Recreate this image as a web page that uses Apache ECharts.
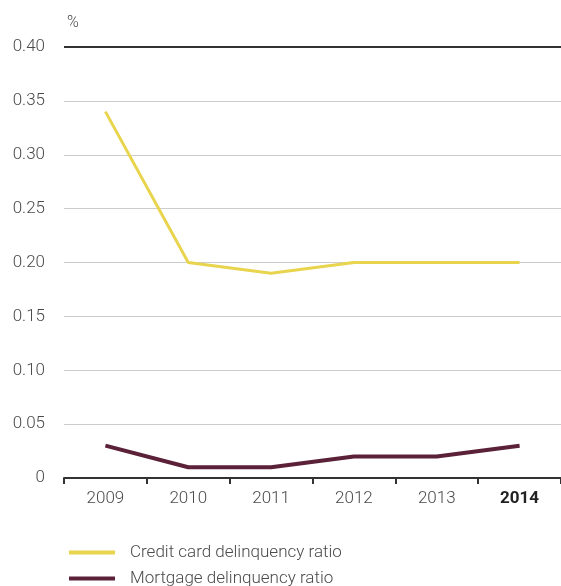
<!DOCTYPE html>
<html>
<head>
<meta charset="utf-8">
<script src="https://cdn.jsdelivr.net/npm/echarts@6/dist/echarts.min.js"></script>
<style>
  html, body { margin: 0; padding: 0; background: #fff; }
  #chart { width: 561px; height: 586px; }
</style>
</head>
<body>
<div id="chart"></div>
<script>
// years on the x axis
const years = ['2009', '2010', '2011', '2012', '2013', '2014'];
// ratios in %
const creditCard = [0.34, 0.20, 0.19, 0.20, 0.20, 0.20];
const mortgage = [0.03, 0.01, 0.01, 0.02, 0.02, 0.03];
const seriesNames = ['Credit card delinquency ratio', 'Mortgage delinquency ratio'];
const yMax = 0.4;

const textFont = 'Roboto';
const labelColor = '#4a4a4a';
const chart = echarts.init(document.getElementById('chart'));

// one legend per row so it never wraps into columns
function legendRow(name, top) {
    return {
        orient: 'horizontal',
        left: 64,
        top: top,
        itemWidth: 46,
        itemHeight: 4,
        icon: 'rect',
        textStyle: { fontFamily: textFont, fontSize: 17, color: labelColor, fontWeight: 300, padding: [0, 0, 0, 10] },
        data: [name]
    };
}

chart.setOption({
    animation: false,
    grid: { left: 64, top: 47, width: 507, height: 431 },
    legend: [legendRow(seriesNames[0], 539), legendRow(seriesNames[1], 565)],
    xAxis: {
        type: 'category',
        data: years,
        boundaryGap: true,
        axisLine: { lineStyle: { color: '#333', width: 2 } },
        axisTick: { show: true, length: 6, lineStyle: { color: '#333', width: 2 } },
        axisLabel: {
            margin: 12,
            fontFamily: textFont,
            fontSize: 17,
            color: labelColor,
            fontWeight: 300,
            formatter: (v) => v === '2014' ? '{b|' + v + '}' : v,
            rich: { b: { fontFamily: textFont, fontSize: 17, fontWeight: 'bold', color: '#222' } }
        }
    },
    yAxis: {
        type: 'value',
        min: 0,
        max: yMax,
        interval: 0.05,
        name: '%',
        nameLocation: 'end',
        nameGap: 16,
        nameTextStyle: { fontFamily: textFont, fontSize: 16, color: labelColor, fontWeight: 300, align: 'left', padding: [0, 0, 0, 3] },
        axisLine: { show: false },
        axisTick: { show: false },
        axisLabel: {
            margin: 19,
            fontFamily: textFont,
            fontSize: 17,
            color: labelColor,
            fontWeight: 300,
            formatter: (v) => v === 0 ? '0' : v.toFixed(2)
        },
        splitLine: {
            lineStyle: {
                color: ['#ccc', '#ccc', '#ccc', '#ccc', '#ccc', '#ccc', '#ccc', '#ccc', '#333'],
                width: 1
            }
        }
    },
    series: [
        {
            name: seriesNames[0],
            type: 'line',
            data: creditCard,
            symbol: 'none',
            color: '#e8d44d',
            lineStyle: { width: 3, color: '#e8d44d' },
            // heavier top rule
            markLine: {
                silent: true,
                symbol: 'none',
                label: { show: false },
                lineStyle: { color: '#333', width: 2, type: 'solid' },
                data: [{ yAxis: yMax }]
            }
        },
        {
            name: seriesNames[1],
            type: 'line',
            data: mortgage,
            symbol: 'none',
            color: '#5a2138',
            lineStyle: { width: 4, color: '#5a2138' }
        }
    ]
});
</script>
</body>
</html>
